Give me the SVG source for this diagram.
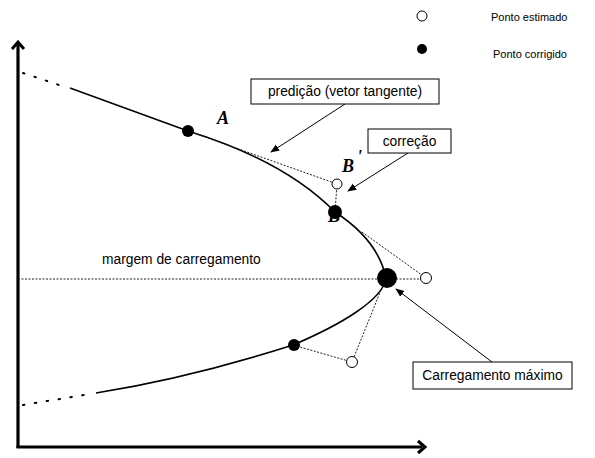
<svg xmlns="http://www.w3.org/2000/svg" width="595" height="458" viewBox="0 0 595 458">
<style>
.t{font-family:"Liberation Sans",Arial,sans-serif;font-size:13.8px;fill:#000}
.lg{font-family:"Liberation Sans",Arial,sans-serif;font-size:11px;fill:#000}
.lbl{font-family:"Liberation Serif","Times New Roman",serif;font-size:18px;font-weight:bold;font-style:italic;fill:#000}
.box{fill:#fff;stroke:#000;stroke-width:1}
.dot{fill:none;stroke:#222;stroke-width:1;stroke-dasharray:2 1.5}
.dots{fill:none;stroke:#000;stroke-width:2;stroke-dasharray:1.5 10.5;stroke-linecap:round}
.curve{fill:none;stroke:#000;stroke-width:1.6}
.open{fill:#fff;stroke:#000;stroke-width:1}
.fill{fill:#000}
.ptr{stroke:#000;stroke-width:1;fill:none;marker-end:url(#ah)}
</style>
<defs>
<marker id="ah" viewBox="0 0 10 10" refX="9" refY="5" markerWidth="9" markerHeight="9" orient="auto" markerUnits="userSpaceOnUse"><path d="M0,1 L10,5 L0,9 z" fill="#000"/></marker>
</defs>
<g id="axes">
<line x1="18" y1="448" x2="18" y2="44" stroke="#000" stroke-width="3.2"/>
<path d="M12,49 L18,42 L24,49" fill="none" stroke="#000" stroke-width="3"/>
<line x1="16.5" y1="447" x2="422" y2="447" stroke="#000" stroke-width="3.2"/>
<path d="M418,441 L425,447 L418,453" fill="none" stroke="#000" stroke-width="3"/>
</g>
<g id="curve">
<path class="dots" d="M23,73 L62,86"/>
<path class="dots" d="M23,405 L90,394"/>
<path class="curve" d="M70,88 L188,131 Q285,161 335,212 Q378,240 386,278 C383,300 340,325 293,345 Q190,378 96,393"/>
</g>
<g id="connectors">
<path class="dot" d="M188,131 L337,184 L335,212"/>
<path class="dot" d="M362,232 L426,278"/>
<path class="dot" d="M18,279 L426,279"/>
<path class="dot" d="M381,290 L352,362 L293,345"/>
<line class="ptr" x1="345" y1="104" x2="271" y2="152"/>
<line class="ptr" x1="408" y1="153" x2="348" y2="191"/>
<line class="ptr" x1="492" y1="362" x2="396" y2="289"/>
</g>
<g id="label-B-hidden"><text class="lbl" x="328" y="222">B</text></g>
<g id="pointA"><circle class="fill" cx="188" cy="131" r="6"/><text class="lbl" x="217" y="124">A</text></g>
<g id="pointB-est"><circle class="open" cx="337" cy="184" r="5"/><text class="lbl" x="342" y="172">B</text><text class="lbl" x="357" y="163" font-size="11">'</text></g>
<g id="pointB-cor"><circle class="fill" cx="335" cy="212" r="7"/></g>
<g id="pointMax"><circle class="fill" cx="387" cy="278" r="10"/></g>
<g id="pointMax-est"><circle class="open" cx="426" cy="278" r="5.5"/></g>
<g id="pointC"><circle class="fill" cx="294" cy="345" r="6"/></g>
<g id="pointC-est"><circle class="open" cx="352" cy="362" r="5.5"/></g>
<g id="box-predicao"><rect class="box" x="251" y="79" width="188" height="25"/><text class="t" x="345" y="96" text-anchor="middle">predição (vetor tangente)</text></g>
<g id="box-correcao"><rect class="box" x="368" y="129" width="83" height="24"/><text class="t" x="409.5" y="146" text-anchor="middle">correção</text></g>
<g id="box-max"><rect class="box" x="413" y="362" width="159" height="27"/><text class="t" x="492.5" y="380" text-anchor="middle">Carregamento máximo</text></g>
<g id="margem"><text class="t" x="102" y="264">margem de carregamento</text></g>
<g id="legend">
<circle class="open" cx="422" cy="16" r="5"/><text class="lg" x="491" y="21">Ponto estimado</text>
<circle class="fill" cx="422" cy="49" r="5"/><text class="lg" x="493" y="58">Ponto corrigido</text>
</g>
</svg>
